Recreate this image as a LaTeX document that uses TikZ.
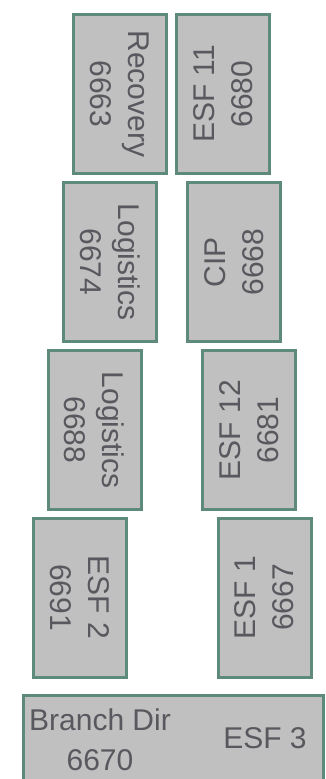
\documentclass[tikz,border=0pt]{standalone}
\usepackage{fontspec}
\newfontfamily\boxfont{Liberation Sans}
\definecolor{boxline}{RGB}{94,138,124}
\definecolor{boxfill}{RGB}{192,192,192}
\definecolor{boxtext}{RGB}{88,88,94}
\tikzset{
    duty/.style       = {draw=boxline, line width=3pt, fill=boxfill,
                         text=boxtext, align=center, inner sep=0pt,
                         font=\boxfont\fontsize{30}{38}\selectfont,
                         minimum width=159pt, minimum height=93pt},
    duty cw/.style    = {duty, rotate=-90},
    duty ccw/.style   = {duty, rotate=90},
    branch text/.style = {text=boxtext, align=center, inner sep=0pt,
                         font=\boxfont\fontsize{30}{40}\selectfont}
}
\def\rowone{94}
\def\rowtwo{262}
\def\rowthree{430}
\def\rowfour{597.5}

\begin{document}
\begin{tikzpicture}[x=1pt, y=-1pt]
\useasboundingbox (0,0) rectangle (326,779);
\clip (0,0) rectangle (326,779);

% Left column, read top to bottom.
\node[duty cw] (recovery) at (120,\rowone) {Recovery\\6663};
\node[duty cw] (logistics a) at (110,\rowtwo) {Logistics\\6674};
\node[duty cw] (logistics b) at (94.5,\rowthree) {Logistics\\6688};
\node[duty cw] (esf two) at (79.5,\rowfour) {ESF 2\\6691};

% Right column, read bottom to top.
\node[duty ccw] (esf eleven) at (223,\rowone) {ESF 11\\6680};
\node[duty ccw] (cip) at (234,\rowtwo) {CIP\\6668};
\node[duty ccw] (esf twelve) at (249,\rowthree) {ESF 12\\6681};
\node[duty ccw] (esf one) at (264.5,\rowfour) {ESF 1\\6667};

% Wide box at the foot, cut by the frame.
\node[duty, anchor=north west, minimum width=300pt, minimum height=120pt]
    (branch) at (21.5,693.5) {};
\node[branch text] (branch dir) at (100,740) {Branch Dir\\6670};
\node[branch text] (esf three) at (265,738) {ESF 3};

\end{tikzpicture}
\end{document}
